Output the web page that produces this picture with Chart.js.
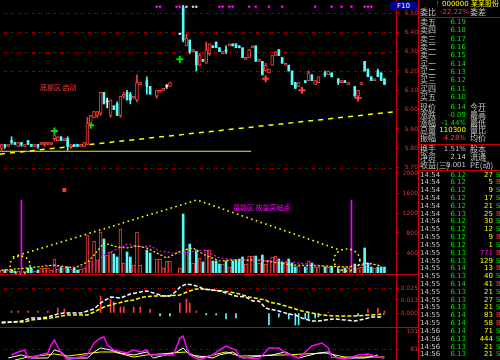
<!DOCTYPE html>
<html lang="zh-CN">
<head>
<meta charset="UTF-8">
<title>分时K线</title>
<script src="https://cdn.jsdelivr.net/npm/chart.js"></script>
<style>
  html, body { margin: 0; padding: 0; background: #000; }
  body { position: relative; width: 500px; height: 360px; overflow: hidden; font-family: "Noto Sans CJK SC", "DejaVu Sans", sans-serif; }
  canvas { position: absolute; left: 0; }
  .ln { position: absolute; background: #c80000; }
  .tx { position: absolute; white-space: nowrap; font-size: 8px; line-height: 8px; }
  .num { font-family: "DejaVu Sans", sans-serif; font-size: 7px; }
</style>
</head>
<body>
<canvas id="priceChart" width="418" height="170" style="top:0"></canvas>
<canvas id="volChart" width="418" height="104" style="top:170px"></canvas>
<canvas id="macdChart" width="418" height="52" style="top:275px"></canvas>
<canvas id="kdjChart" width="418" height="32" style="top:328px"></canvas>

<div class="ln" style="left:396px;top:0;width:1px;height:360px"></div>
<div class="ln" style="left:418px;top:0;width:1px;height:360px"></div>
<div class="ln" style="left:0;top:274px;width:418px;height:1px"></div>
<div class="ln" style="left:0;top:327px;width:418px;height:1px"></div>
<div class="ln" style="left:418px;top:17px;width:82px;height:1px"></div>
<div class="ln" style="left:418px;top:144px;width:82px;height:1px"></div>
<div class="ln" style="left:418px;top:170px;width:82px;height:1px"></div>
<div class="tx num" style="left:390px;top:2px;width:27px;height:8px;background:#000090;color:#fff;text-align:center">F10</div>

<script>
const RED = '#ff3c3c', CYAN = '#54fcfc', WHITE = '#ffffff', YELLOW = '#ffff00',
      MAGENTA = '#ff00ff', GREEN = '#00e000', GRID = '#e00000', LABEL = '#c8c8c8';

// 2-minute bars, index 0 = open of session (null = no bar visible)
const openP = [
  5.80,5.82,5.81,5.84,5.83,5.81,5.83,5.81,5.84,5.82,
  5.81,5.82,5.82,5.82,5.82,5.82,5.85,5.84,5.86,5.84,
  5.85,5.81,5.82,5.82,5.81,5.81,5.82,5.93,5.96,5.97,
  5.98,6.09,6.04,5.97,6.02,6.03,5.97,6.07,6.09,6.08,
  6.06,6.05,6.13,null,6.15,6.12,null,6.07,6.09,6.10,
  6.12,6.12,null,null,6.39,6.53,6.33,6.36,6.30,6.30,
  6.23,6.26,6.24,6.29,6.33,6.35,6.32,6.29,6.31,6.33,
  6.34,6.34,6.33,6.32,6.26,6.27,6.32,6.33,6.25,6.25,
  6.20,6.19,6.23,6.28,6.31,6.27,6.23,6.23,6.20,6.14,
  6.12,null,6.15,6.15,6.18,6.13,6.14,null,6.19,6.18,
  6.19,null,6.16,6.14,6.15,6.13,null,6.12,6.07,6.13,
  6.25,6.21,6.17,6.15,6.20,6.19,6.16];
const highP = [
  5.82,5.82,5.82,5.86,5.83,5.83,5.83,5.82,5.84,5.82,
  5.82,5.82,5.83,5.83,5.83,5.83,5.87,5.86,5.86,5.85,
  5.86,5.82,5.82,5.82,5.82,5.83,5.96,5.97,5.99,5.99,
  6.09,6.09,6.06,6.05,6.02,6.04,6.07,6.09,6.10,6.09,
  6.07,6.18,6.14,null,6.17,6.12,null,6.10,6.10,6.11,
  6.13,6.14,null,null,6.39,6.54,6.39,6.36,6.31,6.30,
  6.29,6.26,6.35,6.34,6.33,6.35,6.32,6.30,6.33,6.34,
  6.34,6.34,6.33,6.32,6.27,6.31,6.33,6.33,6.26,6.25,
  6.24,6.21,6.28,6.30,6.31,6.27,6.24,6.23,6.20,6.14,
  6.14,null,6.15,6.20,6.18,6.15,6.17,null,6.20,6.20,
  6.19,null,6.16,6.15,6.15,6.14,null,6.12,6.10,6.14,
  6.25,6.21,6.17,6.16,6.21,6.19,6.16];
const lowP = [
  5.79,5.80,5.81,5.82,5.82,5.81,5.81,5.81,5.82,5.81,
  5.81,5.80,5.82,5.81,5.82,5.82,5.84,5.84,5.84,5.84,
  5.79,5.80,5.81,5.81,5.81,5.81,5.82,5.93,5.96,5.96,
  5.97,6.03,6.01,5.96,6.00,5.97,5.96,6.06,6.05,6.03,
  6.06,6.04,6.13,null,6.08,6.08,null,6.06,6.09,6.10,
  6.11,6.12,null,null,6.39,6.35,6.33,6.29,6.30,6.20,
  6.23,6.25,6.24,6.28,6.32,6.32,6.30,6.29,6.29,6.33,
  6.33,6.32,6.32,6.27,6.26,6.27,6.32,6.25,6.25,6.18,
  6.20,6.19,6.23,6.28,6.28,6.24,6.23,6.20,6.13,6.11,
  6.12,null,6.14,6.15,6.15,6.13,6.14,null,6.17,6.18,
  6.17,null,6.13,6.14,6.14,6.13,null,6.07,6.07,6.13,
  6.20,6.17,6.15,6.15,6.17,6.15,6.13];
const closeP = [
  5.82,5.81,5.82,5.83,5.82,5.83,5.82,5.82,5.82,5.81,
  5.82,5.81,5.83,5.83,5.83,5.83,5.87,5.86,5.84,5.85,
  5.81,5.82,5.81,5.81,5.82,5.83,5.93,5.97,5.99,5.99,
  6.09,6.03,6.04,6.05,6.00,5.97,6.07,6.08,6.05,6.05,
  6.07,6.14,6.14,null,6.12,6.08,null,6.10,6.10,6.11,
  6.12,6.14,null,null,6.39,6.36,6.37,6.30,6.31,6.23,
  6.28,6.25,6.31,6.34,6.32,6.32,6.30,6.30,6.30,6.34,
  6.33,6.32,6.32,6.27,6.27,6.31,6.33,6.25,6.26,6.18,
  6.23,6.21,6.28,6.30,6.28,6.24,6.24,6.20,6.13,6.11,
  6.14,null,6.14,6.19,6.15,6.15,6.17,null,6.18,6.20,
  6.17,null,6.14,6.15,6.14,6.14,null,6.07,6.10,6.14,
  6.20,6.17,6.15,6.16,6.17,6.15,6.13];
const volume = [
  60,60,60,60,40,40,1460,40,100,100,
  40,60,100,100,100,60,280,80,120,100,
  120,80,100,60,80,100,760,240,640,260,
  820,680,360,420,380,320,880,200,420,320,
  160,820,160,null,460,400,null,280,280,100,
  240,240,null,null,100,1180,480,580,200,460,
  300,220,460,460,240,240,180,180,240,120,
  240,260,280,320,180,340,340,340,200,360,
  180,260,320,340,280,220,220,280,200,120,
  140,null,120,240,200,120,120,null,120,120,
  120,null,80,80,100,100,1460,180,100,120,
  500,200,120,100,120,120,120];
const hotVolIdx = [6, 106];

const priceTicks = [5.7, 5.8, 5.9, 6.0, 6.1, 6.2, 6.3, 6.4, 6.5];
const priceGrid = [5.7, 6.2, 6.3, 6.4, 6.5];
const trendIdx = [-0.5, 119.5], trendP = [5.77, 5.99];
const supportIdx = [-0.5, 75.6], supportP = [5.785, 5.785];
const buyIdx = [16, 27, 54], buyP = [5.89, 5.92, 6.26];
const sellIdx = [80, 91, 108], sellP = [6.16, 6.10, 6.06];
const topMarkIdx = [47, 48, 53, 54, 66, 67, 69, 70, 75, 77, 81, 85, 95, 100, 103, 106, 110, 111, 112];
const whiteMarkIdx = [56, 58, 59];

const volTicks = [400, 800, 1200, 1600, 2000];
const ma5Idx = [0, 8, 16, 22, 26, 28, 31, 33, 35, 38, 41, 44, 47, 50, 55, 58, 61, 66, 70, 78, 88, 97, 105, 111, 115];
const ma5Val = [60, 100, 160, 100, 220, 360, 600, 560, 520, 500, 540, 500, 400, 300, 460, 500, 380, 240, 260, 260, 160, 140, 120, 200, 140];
const ma10Idx = [13, 18, 25, 27, 31, 33, 35, 38, 42, 45, 48, 52, 55, 61, 66, 71, 76, 81, 86, 90, 95, 101, 105, 110, 114];
const ma10Val = [160, 120, 120, 120, 360, 420, 480, 580, 520, 540, 440, 400, 400, 460, 300, 260, 260, 240, 240, 200, 160, 120, 120, 160, 180];
const triIdx = [3.4, 59.2, 102.5], triVol = [320, 1460, 460];
const ringIdx = [5.6, 104.6], ringVol = [160, 260];
const dotIdx = [19], dotVol = [1660];

const macdTicks = [0, 0.013, 0.025];
const macdGrid = [0.025];
const macdIdx = [3, 5, 8, 11, 14, 17, 19, 30, 33, 34, 36, 37, 40, 42, 45, 48, 51, 54, 56, 57, 59, 62, 65, 68, 71, 81, 84, 87, 89, 90, 92, 93, 95, 96, 99, 108, 111, 114, 116];
const macdVal = [0.002, 0.002, 0.002, 0.002, 0.002, 0.005, 0.004, 0.017, 0.014, 0.011, 0.006, 0.006, 0.006, 0.006, 0.004, -0.003, -0.003, 0.010, 0.014, 0.010, 0.002,
  -0.002, -0.002, -0.006, -0.005, -0.012, -0.004, -0.006, -0.012, -0.012, -0.006, -0.006, -0.005, -0.004, 0.001, -0.003, 0.004, 0.005, 0.002];
const difIdx = [0, 3, 6, 9, 12, 14, 17, 19, 24, 28, 30, 33, 36, 39, 42, 44, 46, 49, 51, 53, 54, 56, 58, 60, 61, 66, 68, 71, 74, 76, 78, 80, 81, 84, 87, 89, 91, 94, 96, 98, 101, 104, 107, 110, 112, 115];
const difVal = [-0.010, -0.009, -0.008, -0.005, -0.005, -0.004, -0.001, 0.000, 0.000, 0.004, 0.010, 0.016, 0.015, 0.019, 0.021, 0.022, 0.020, 0.017, 0.017, 0.022, 0.026, 0.029, 0.028, 0.026, 0.024,
  0.022, 0.020, 0.017, 0.016, 0.012, 0.012, 0.005, 0.004, 0.002, -0.001, -0.002, -0.005, -0.008, -0.008, -0.007, -0.006, -0.007, -0.008, -0.006, -0.004, -0.004];
const deaIdx = [0, 4, 7, 9, 12, 15, 18, 20, 26, 28, 31, 34, 38, 40, 43, 46, 50, 54, 57, 59, 61, 67, 71, 75, 80, 81, 84, 87, 89, 91, 94, 97, 101, 107, 112, 116];
const deaVal = [-0.009, -0.009, -0.009, -0.007, -0.006, -0.005, -0.003, -0.002, -0.002, 0.001, 0.006, 0.009, 0.012, 0.013, 0.016, 0.017, 0.017, 0.018, 0.022, 0.024, 0.024,
  0.022, 0.020, 0.016, 0.013, 0.011, 0.009, 0.006, 0.004, 0.002, 0.000, -0.002, -0.003, -0.003, -0.002, -0.001];

const kdjTicks = [81, 101];
const kdjGrid = [81];
const kIdx = [3, 5, 7, 8, 14, 15, 16, 17, 18, 20, 26, 28, 30, 31, 32, 34, 38, 40, 42, 44, 45, 52, 53, 54, 55, 56, 57, 60, 64, 66, 68, 71, 72, 78, 81, 84, 86, 90, 94, 97, 99, 100, 104, 108, 111, 114, 116];
const kVal = [74.6, 77.9, 80.1, 71.2, 76.8, 85.7, 91.2, 83.4, 76.8, 69.0, 74.6, 87.9, 93.4, 94.5, 85.7, 80.1, 76.8, 80.1, 77.9, 80.1, 74.6, 74.6, 83.4, 93.4, 95.6, 83.4, 74.6,
  69.0, 74.6, 80.1, 84.5, 80.1, 72.3, 70.1, 82.3, 82.3, 76.8, 71.2, 84.5, 87.9, 82.3, 72.3, 70.1, 74.6, 75.7, 72.3, 71.2];
const dIdx = [2, 6, 9, 14, 16, 18, 20, 26, 28, 30, 33, 36, 40, 44, 46, 53, 55, 57, 64, 66, 70, 73, 82, 86, 90, 96, 99, 102, 110, 114];
const dVal = [71.2, 74.6, 71.2, 71.2, 80.1, 77.9, 71.2, 71.2, 77.9, 82.3, 80.1, 76.8, 74.6, 77.9, 71.2, 77.9, 82.3, 74.6, 71.2, 74.6, 77.9, 71.2, 74.6, 77.9, 71.2, 76.8, 77.9, 71.2, 71.2, 74.6];
const jIdx = [4, 8, 16, 20, 30, 34, 40, 44, 56, 60, 68, 72, 86, 98, 104, 116];
const jVal = [69.0, 72.3, 75.7, 73.4, 77.9, 77.9, 72.3, 74.6, 77.9, 71.2, 77.9, 73.4, 74.6, 76.8, 72.3, 72.3];

// quote board
const stockName = '000000 某某股份';
const weiBi = '-22.22%';
const bookLabels = ['卖五', '卖四', '卖三', '卖二', '卖一', '买一', '买二', '买三', '买四', '买五'];
const bookPrices = [6.19, 6.18, 6.17, 6.16, 6.15, 6.14, 6.13, 6.12, 6.11, 6.10];
const statLabels = ['现价', '涨跌', '涨幅', '总量', '振幅'];
const statValues = ['6.14', '-0.09', '-1.44%', '110300', '4.28%'];
const statRight = ['今开', '最高', '最低', '量比', '均价'];
const infoLabels = ['换手', '净资', '收益(三)'];
const infoValues = ['1.51%', '2.14', '0.001'];
const infoRight = ['股本', '流通', 'PE(动)'];
const tradeTimes = ['14:54','14:54','14:54','14:54','14:54','14:54','14:54','14:55','14:55','14:55','14:55','14:55',
  '14:55','14:55','14:55','14:55','14:55','14:55','14:55','14:55','14:56','14:56','14:56','14:56'];
const tradePrices = [6.12,6.12,6.12,6.12,6.12,6.13,6.12,6.12,6.12,6.12,6.13,6.13,6.14,6.13,6.14,6.13,6.13,6.13,6.14,6.14,6.14,6.13,6.13,6.13];
const tradeVols = [27,5,9,17,21,25,30,12,9,1,771,129,13,40,41,21,27,21,83,58,71,444,21,21];
const tradeSides = ['S','B','S','S','S','B','S','S','B','S','B','S','B','S','B','S','S','S','B','B','S','S','S','S'];

// ---------- helpers ----------
const pts = (xs, ys) => xs.map((x, k) => ({ x: x, y: ys[k] }));
const bars = (list) => list.map(i => ({ x: i, y: [openP[i], closeP[i]] }));

const candleIdx = [];
for (let i = 0; i < openP.length; i++) if (openP[i] !== null) candleIdx.push(i);
const upIdx = candleIdx.filter(i => closeP[i] > openP[i]);
const dnIdx = candleIdx.filter(i => closeP[i] <= openP[i]);
const candleColor = i => closeP[i] > openP[i] ? RED : (closeP[i] < openP[i] ? CYAN : WHITE);

// dotted grid lines drawn only at the chosen tick values
function gridPlugin(gridVals) {
  return {
    id: 'dotGrid',
    beforeDatasetsDraw(chart) {
      const { ctx, chartArea, scales } = chart;
      ctx.save();
      ctx.fillStyle = GRID;
      gridVals.forEach(v => {
        const y = Math.round(scales.y.getPixelForValue(v));
        for (let x = chartArea.left + 4; x < chartArea.right - 1; x += 7) {
          ctx.fillRect(x, y, 1, 1);
          ctx.fillRect(x + 2, y, 1, 1);
        }
      });
      ctx.restore();
    }
  };
}

function yScale(min, max, ticks, fmt, pad) {
  return {
    position: 'right', min: min, max: max,
    afterFit(s) { s.width = 22; s.paddingTop = 0; s.paddingBottom = 0; },
    afterBuildTicks(s) { s.ticks = ticks.map(v => ({ value: v })); },
    border: { display: false },
    grid: { drawOnChartArea: false, drawTicks: true, tickLength: 3, tickColor: GRID },
    ticks: { color: '#e83030', font: { family: 'DejaVu Sans', size: 6 }, padding: pad, crossAlign: 'far', callback: fmt }
  };
}

function options(y, bottomPad) {
  return {
    responsive: false, animation: false, devicePixelRatio: 1, events: [],
    layout: { autoPadding: false, padding: { top: 0, left: 0, right: 0, bottom: bottomPad || 0 } },
    plugins: { legend: { display: false }, tooltip: { enabled: false } },
    scales: { x: { type: 'linear', min: -0.5, max: 119.5, display: false, offset: false }, y: y }
  };
}

const lineSet = (data, color, width, dash) => ({
  type: 'line', data: data, borderColor: color, borderWidth: width, borderDash: dash || [],
  pointRadius: 0, tension: 0, fill: false
});
const markSet = (data, color, style, radius, rotation, bw) => ({
  type: 'line', data: data, showLine: false, pointStyle: style, pointRadius: radius,
  pointRotation: rotation || 0, pointBorderColor: color, pointBackgroundColor: color, pointBorderWidth: bw || 2
});

// ---------- price chart ----------
new Chart(document.getElementById('priceChart'), {
  type: 'bar',
  data: {
    datasets: [
      { type: 'bar', data: bars(upIdx), backgroundColor: '#000', borderColor: RED, borderWidth: 1,
        borderSkipped: false, barThickness: 3, minBarLength: 1, grouped: false, order: 0 },
      { type: 'bar', data: bars(dnIdx), backgroundColor: dnIdx.map(candleColor), borderWidth: 0,
        barThickness: 2, minBarLength: 1, grouped: false, order: 0 },
      { type: 'bar', data: candleIdx.map(i => ({ x: i, y: [lowP[i], highP[i]] })),
        backgroundColor: candleIdx.map(candleColor), borderWidth: 0,
        barThickness: 1, minBarLength: 1, grouped: false, order: 1 },
      Object.assign(lineSet(pts(trendIdx, trendP), YELLOW, 1.5, [5, 5]), { order: 2 }),
      Object.assign(lineSet(pts(supportIdx, supportP), '#f0f000', 1.2), { order: 2 }),
      markSet(pts(buyIdx, buyP), GREEN, 'cross', 3.5),
      markSet(pts(sellIdx, sellP), RED, 'cross', 3.5),
      markSet(topMarkIdx.map(i => ({ x: i, y: 6.532 })), MAGENTA, 'triangle', 1.3, 180, 1),
      markSet(whiteMarkIdx.map(i => ({ x: i, y: 6.532 })), '#d0d0d0', 'rect', 1, 0, 1)
    ]
  },
  options: options(yScale(5.688, 6.567, priceTicks, v => v.toFixed(2), 5)),
  plugins: [gridPlugin(priceGrid)]
});

// ---------- volume chart ----------
const volIdx = [];
for (let i = 0; i < volume.length; i++) if (volume[i] !== null) volIdx.push(i);
const volUp = volIdx.filter(i => !hotVolIdx.includes(i) && closeP[i] >= openP[i]);
const volDn = volIdx.filter(i => !hotVolIdx.includes(i) && closeP[i] < openP[i]);

const ringPlugin = {
  id: 'rings',
  afterDatasetsDraw(chart) {
    const { ctx, scales } = chart;
    const radii = [[10, 9], [13, 11]];
    ctx.save();
    ctx.strokeStyle = YELLOW; ctx.lineWidth = 1.6; ctx.setLineDash([1.6, 3]);
    ringIdx.forEach((ix, k) => {
      ctx.beginPath();
      ctx.ellipse(scales.x.getPixelForValue(ix), scales.y.getPixelForValue(ringVol[k]), radii[k][0], radii[k][1], 0, 0, Math.PI * 2);
      ctx.stroke();
    });
    ctx.restore();
  }
};

new Chart(document.getElementById('volChart'), {
  type: 'bar',
  data: {
    datasets: [
      { type: 'bar', data: volUp.map(i => ({ x: i, y: volume[i] })), backgroundColor: '#000', borderColor: RED,
        borderWidth: 1, borderSkipped: 'start', barThickness: 3, grouped: false, order: 1 },
      { type: 'bar', data: volDn.map(i => ({ x: i, y: volume[i] })), backgroundColor: CYAN,
        borderWidth: 0, barThickness: 2, grouped: false, order: 1 },
      { type: 'bar', data: hotVolIdx.map(i => ({ x: i, y: volume[i] })), backgroundColor: MAGENTA,
        borderWidth: 0, barThickness: 1, grouped: false, order: 1 },
      Object.assign(lineSet(pts(ma5Idx, ma5Val), YELLOW, 1.2, [2, 2]), { order: 0 }),
      Object.assign(lineSet(pts(ma10Idx, ma10Val), MAGENTA, 1.2, [2, 2]), { order: 0 }),
      Object.assign(lineSet(pts(triIdx, triVol), YELLOW, 1.6, [1.6, 3.4]), { order: 0 }),
      markSet(pts(dotIdx, dotVol), RED, 'rect', 1.3)
    ]
  },
  options: options(yScale(0, 2060, volTicks, v => String(v), 3), 1),
  plugins: [ringPlugin]
});

// ---------- MACD ----------
const macdUp = macdIdx.filter((i, k) => macdVal[k] > 0);
const macdDn = macdIdx.filter((i, k) => macdVal[k] < 0);
const macdOf = i => macdVal[macdIdx.indexOf(i)];

new Chart(document.getElementById('macdChart'), {
  type: 'bar',
  data: {
    datasets: [
      { type: 'bar', data: macdUp.map(i => ({ x: i, y: macdOf(i) })), backgroundColor: RED, barThickness: 1, grouped: false, order: 1 },
      { type: 'bar', data: macdDn.map(i => ({ x: i, y: macdOf(i) })), backgroundColor: CYAN, barThickness: 1, grouped: false, order: 1 },
      Object.assign(lineSet(pts(difIdx, difVal), WHITE, 1.5, [4, 2]), { order: 0 }),
      Object.assign(lineSet(pts(deaIdx, deaVal), YELLOW, 1.5, [4, 2]), { order: 0 })
    ]
  },
  options: options(yScale(-0.014, 0.038, macdTicks, v => v.toFixed(3), 1)),
  plugins: [gridPlugin(macdGrid)]
});

// ---------- KDJ ----------
new Chart(document.getElementById('kdjChart'), {
  type: 'line',
  data: {
    datasets: [
      lineSet(pts(kIdx, kVal), MAGENTA, 1.5),
      lineSet(pts(dIdx, dVal), WHITE, 1),
      lineSet(pts(jIdx, jVal), YELLOW, 1)
    ]
  },
  options: options(yScale(69, 104.5, kdjTicks, v => String(v), 5)),
  plugins: [gridPlugin(kdjGrid)]
});

// ---------- text overlays and quote board ----------
function put(text, left, midY, color, cls, width) {
  const s = document.createElement('span');
  s.className = 'tx' + (cls ? ' ' + cls : '');
  s.textContent = text;
  s.style.left = left + 'px';
  s.style.top = (midY - 4) + 'px';
  s.style.color = color;
  if (width) { s.style.width = width + 'px'; s.style.textAlign = 'right'; }
  document.body.appendChild(s);
}

const note1 = document.createElement('span');
note1.className = 'tx'; note1.style.cssText = 'left:40px;top:83px;font-size:7px;color:' + RED;
note1.textContent = '底部区 启动';
document.body.appendChild(note1);
const note2 = document.createElement('span');
note2.className = 'tx'; note2.style.cssText = 'left:233px;top:203px;font-size:7px;color:' + MAGENTA;
note2.textContent = '量能区 放量突破点';
document.body.appendChild(note2);

put('!', 436, 4, RED, 'num');
put(stockName, 442, 4, YELLOW, 'num');
put('委比', 420, 12, LABEL);
put(weiBi, 440, 12, RED, 'num', 26);
put('委差', 470, 12, LABEL);

bookLabels.forEach((t, k) => {
  const y = 22 + k * 8.33;
  put(t, 420, y, LABEL);
  put(bookPrices[k].toFixed(2), 440, y, GREEN, 'num', 26);
});
const statColors = [GREEN, GREEN, GREEN, YELLOW, RED];
statLabels.forEach((t, k) => {
  const y = 107 + k * 7.8;
  put(t, 420, y, LABEL);
  put(statValues[k], 436, y, statColors[k], 'num', 30);
  put(statRight[k], 470, y, LABEL);
});
infoLabels.forEach((t, k) => {
  const y = 149 + k * 7.8;
  put(t, 420, y, LABEL);
  put(infoValues[k], 436, y, LABEL, 'num', 30);
  put(infoRight[k], 470, y, LABEL);
});
tradeTimes.forEach((t, k) => {
  const y = 174.5 + k * 7.82;
  put(t, 420, y, LABEL, 'num');
  put(tradePrices[k].toFixed(2), 440, y, GREEN, 'num', 26);
  put(String(tradeVols[k]), 470, y, tradeVols[k] >= 500 ? MAGENTA : YELLOW, 'num', 23);
  put(tradeSides[k], 496, y, tradeSides[k] === 'B' ? RED : GREEN, 'num');
});
</script>
</body>
</html>
